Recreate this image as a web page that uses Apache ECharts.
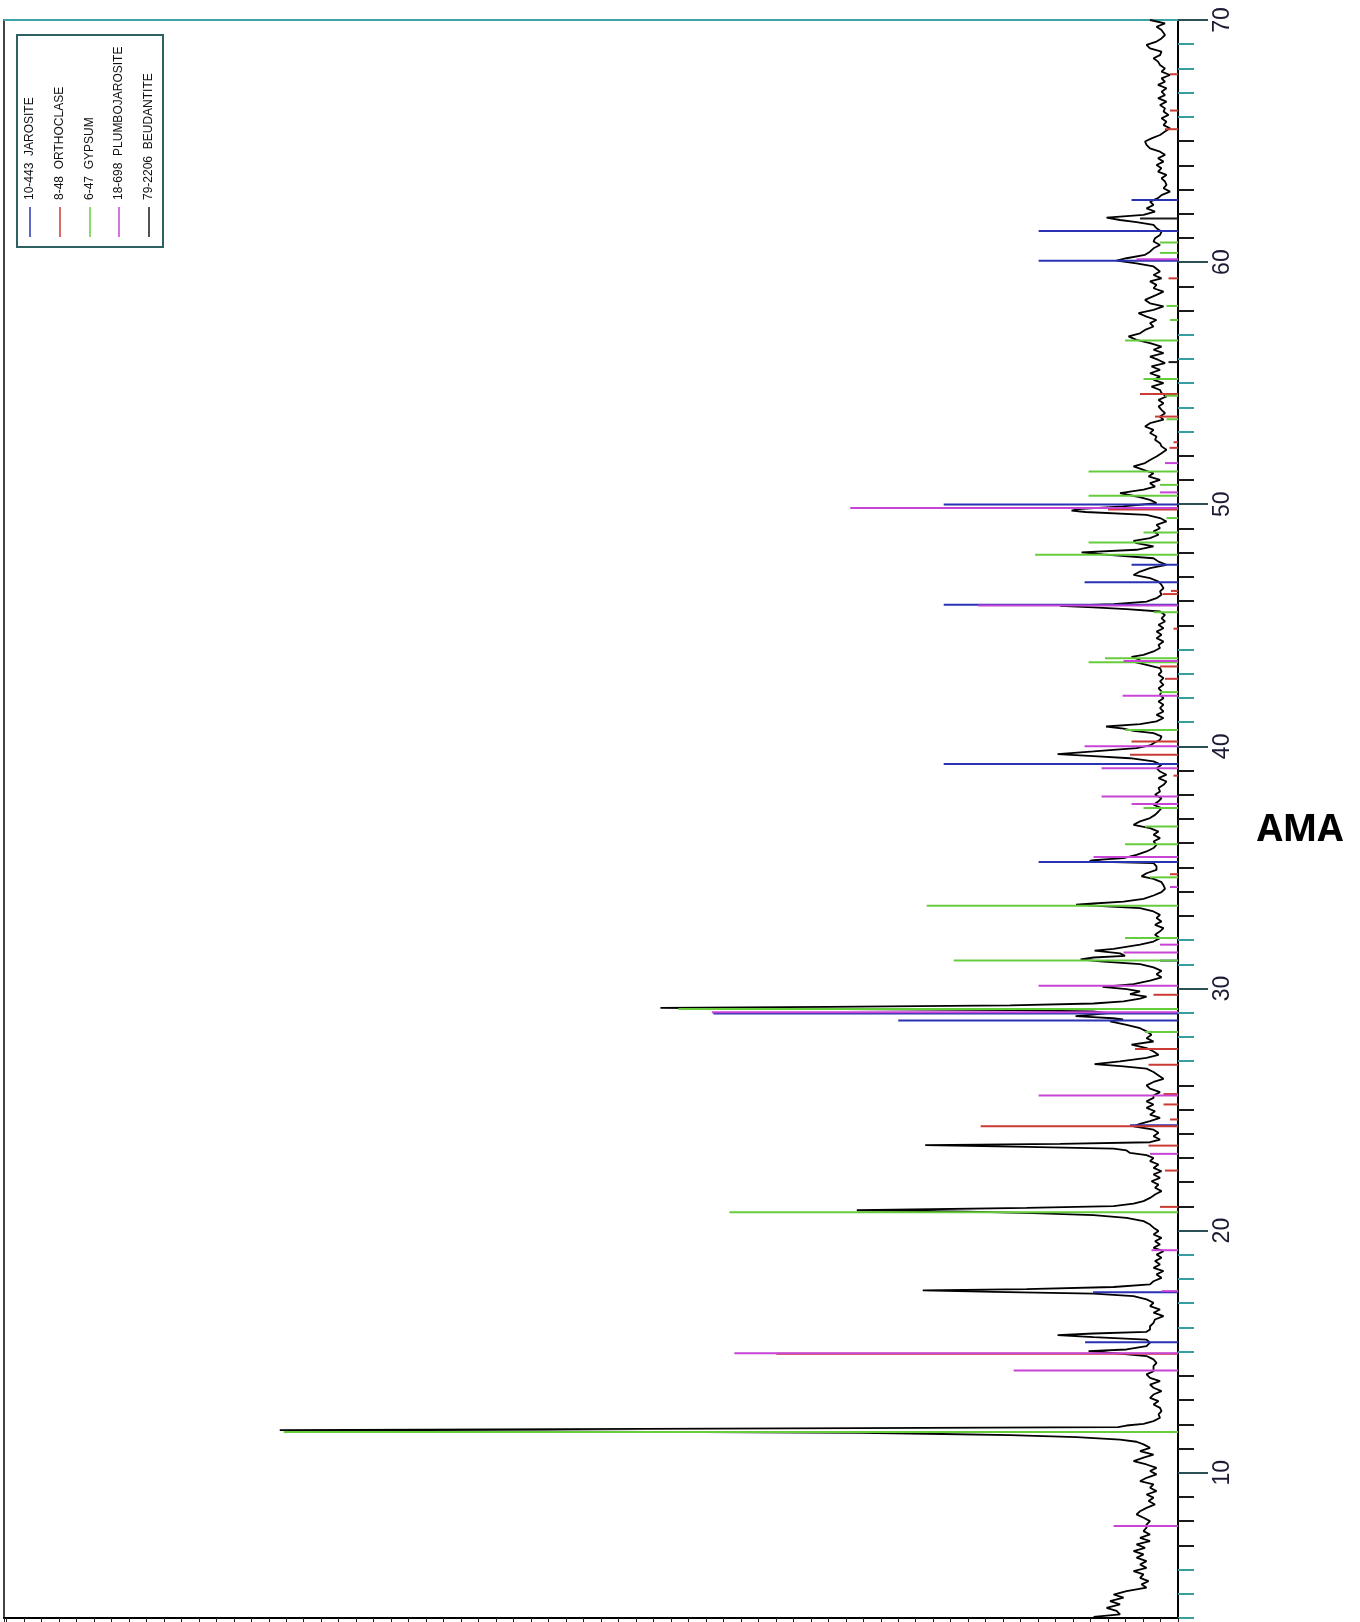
<!DOCTYPE html>
<html>
<head>
<meta charset="utf-8">
<title>AMA – XRD pattern</title>
<script src="https://cdn.jsdelivr.net/npm/echarts@6/dist/echarts.min.js"></script>
<style>
  html, body { margin: 0; padding: 0; background: #ffffff; }
  #chart { width: 1360px; height: 1622px; }
</style>
</head>
<body>
<div id="chart"></div>
<script>
// ---- scan range and axis ticks (2-theta, degrees) ----
const twoThetaMin = 4;
const twoThetaMax = 70;
const majorTicks = [10, 20, 30, 40, 50, 60, 70];
const tealTicks = [4, 5, 6, 15, 16, 17, 18, 19, 27, 28, 29, 31, 32, 41, 42, 43, 44, 53, 54, 55, 56, 57, 66, 67, 68, 69];
const darkTicks = [7, 8, 9, 11, 12, 13, 14, 21, 22, 23, 24, 25, 26, 33, 34, 35, 36, 37, 38, 39, 45, 46, 47, 48, 49, 51, 52, 58, 59, 61, 62, 63, 64, 65];

// intensity scale (counts)
const countsMax = 2350;
const countsTick = 35;

// ---- measured pattern: [2theta, counts] ----
const scan = [
  [70.00,56],[69.86,26],[69.72,43],[69.59,33],[69.38,26],[69.24,33],[69.11,43],[68.97,63],[68.83,56],[68.69,33],
  [68.55,36],[68.42,49],[68.28,40],[68.14,36],[68.00,26],[67.87,33],[67.73,16],[67.59,33],[67.45,26],[67.32,40],
  [67.18,23],[67.04,33],[66.90,26],[66.77,40],[66.63,23],[66.49,36],[66.35,26],[66.22,29],[66.08,19],[65.94,33],
  [65.80,23],[65.66,29],[65.53,16],[65.39,26],[65.25,36],[65.11,53],[64.98,66],[64.84,63],[64.70,56],[64.56,36],
  [64.43,26],[64.29,40],[64.15,29],[64.01,43],[63.88,33],[63.74,40],[63.60,23],[63.46,33],[63.33,26],[63.19,23],
  [63.05,29],[62.91,16],[62.77,33],[62.64,40],[62.50,56],[62.36,49],[62.22,63],[62.09,46],[61.95,69],[61.84,143],
  [61.74,116],[61.65,83],[61.54,49],[61.40,43],[61.26,33],[61.12,36],[60.99,46],[60.85,49],[60.71,36],[60.57,49],
  [60.43,56],[60.30,66],[60.16,103],[60.06,123],[59.95,83],[59.82,49],[59.61,36],[59.47,49],[59.33,33],[59.20,56],
  [59.06,43],[58.92,49],[58.78,29],[58.65,43],[58.44,66],[58.30,56],[58.17,29],[58.03,49],[57.89,79],[57.75,63],
  [57.61,43],[57.48,56],[57.34,49],[57.20,66],[57.06,76],[56.93,99],[56.79,83],[56.65,56],[56.51,33],[56.38,49],
  [56.24,29],[56.10,56],[55.96,39],[55.83,26],[55.69,53],[55.55,36],[55.41,56],[55.27,36],[55.14,49],[55.00,29],
  [54.86,53],[54.72,36],[54.59,33],[54.45,23],[54.31,39],[54.17,29],[54.04,39],[53.90,33],[53.76,26],[53.62,36],
  [53.49,29],[53.35,56],[53.21,66],[53.07,49],[52.94,56],[52.80,43],[52.66,46],[52.52,36],[52.39,33],[52.25,23],
  [52.11,33],[51.97,43],[51.83,56],[51.70,66],[51.56,89],[51.42,69],[51.28,49],[51.15,59],[51.01,36],[50.87,56],
  [50.73,46],[50.60,69],[50.46,116],[50.32,83],[50.18,56],[50.05,43],[49.91,110],[49.80,200],[49.74,213],[49.68,185],
  [49.56,63],[49.43,36],[49.29,23],[49.15,43],[49.01,36],[48.88,49],[48.74,39],[48.60,56],[48.49,89],[48.39,83],
  [48.26,49],[48.12,83],[48.01,193],[47.93,150],[47.88,120],[47.77,49],[47.63,39],[47.50,23],[47.36,56],[47.22,76],
  [47.08,89],[46.95,56],[46.81,39],[46.67,33],[46.53,29],[46.40,36],[46.26,33],[46.12,43],[45.98,63],[45.87,129],
  [45.80,236],[45.74,169],[45.67,103],[45.57,36],[45.43,26],[45.29,33],[45.16,26],[45.02,39],[44.88,29],[44.74,43],
  [44.61,33],[44.47,43],[44.33,29],[44.19,39],[44.06,36],[43.92,49],[43.78,69],[43.70,93],[43.57,76],[43.48,86],
  [43.37,63],[43.23,36],[43.09,33],[42.96,39],[42.82,29],[42.68,36],[42.54,29],[42.40,39],[42.27,33],[42.13,36],
  [41.99,29],[41.85,39],[41.72,29],[41.58,36],[41.44,29],[41.30,43],[41.17,29],[41.03,43],[40.92,76],[40.82,144],
  [40.73,109],[40.64,89],[40.55,49],[40.41,33],[40.27,36],[40.13,49],[40.04,56],[39.93,83],[39.79,169],[39.68,241],
  [39.60,169],[39.51,96],[39.38,49],[39.24,33],[39.10,43],[38.96,36],[38.83,23],[38.69,39],[38.55,23],[38.41,29],
  [38.28,39],[38.14,36],[38.00,46],[37.86,33],[37.73,39],[37.59,49],[37.45,33],[37.31,39],[37.17,46],[37.04,56],
  [36.90,76],[36.76,89],[36.62,56],[36.48,39],[36.35,49],[36.21,36],[36.07,49],[35.93,43],[35.80,49],[35.66,63],
  [35.52,83],[35.38,109],[35.30,169],[35.27,177],[35.23,150],[35.18,49],[35.04,43],[34.90,43],[34.76,63],[34.63,73],
  [34.53,49],[34.39,33],[34.26,29],[34.12,26],[33.98,33],[33.84,49],[33.70,69],[33.59,109],[33.51,169],[33.46,204],
  [33.39,143],[33.32,76],[33.18,49],[33.04,36],[32.91,43],[32.77,33],[32.63,46],[32.49,29],[32.36,36],[32.22,46],
  [32.08,36],[31.94,49],[31.81,76],[31.64,129],[31.56,167],[31.45,116],[31.35,106],[31.28,169],[31.20,195],[31.12,156],
  [31.01,76],[30.87,49],[30.73,33],[30.59,43],[30.46,33],[30.32,56],[30.18,89],[30.07,151],[29.97,103],[29.88,76],
  [29.77,96],[29.66,63],[29.58,76],[29.47,109],[29.38,169],[29.30,336],[29.24,700],[29.20,1036],[29.16,760],[29.11,330],
  [29.05,170],[28.98,140],[28.92,170],[28.86,205],[28.82,170],[28.77,130],[28.72,110],[28.64,136],[28.50,103],[28.36,76],
  [28.23,63],[28.09,53],[27.95,63],[27.81,49],[27.68,93],[27.54,63],[27.40,49],[27.26,39],[27.13,63],[26.99,116],
  [26.88,167],[26.78,109],[26.69,63],[26.55,49],[26.41,39],[26.27,29],[26.14,49],[26.00,63],[25.86,56],[25.72,36],
  [25.58,49],[25.48,49],[25.34,63],[25.21,49],[25.07,63],[24.93,46],[24.79,56],[24.66,36],[24.52,56],[24.41,76],
  [24.31,89],[24.17,49],[24.04,39],[23.90,49],[23.76,36],[23.65,56],[23.58,236],[23.53,506],[23.46,303],[23.39,129],
  [23.31,103],[23.21,96],[23.12,63],[23.00,49],[22.87,56],[22.73,39],[22.59,49],[22.45,33],[22.32,49],[22.18,36],
  [22.04,53],[21.90,39],[21.77,46],[21.63,33],[21.49,46],[21.35,56],[21.22,69],[21.11,89],[21.01,129],[20.94,303],
  [20.84,643],[20.78,420],[20.72,290],[20.64,169],[20.53,103],[20.39,69],[20.25,56],[20.12,49],[19.98,39],[19.84,49],
  [19.70,33],[19.56,46],[19.43,36],[19.29,49],[19.15,29],[19.01,43],[18.88,33],[18.74,46],[18.60,36],[18.46,49],
  [18.33,29],[18.19,43],[18.05,33],[17.91,49],[17.78,56],[17.67,129],[17.58,303],[17.53,511],[17.47,369],[17.40,169],
  [17.29,89],[17.16,63],[17.02,49],[16.88,56],[16.74,36],[16.61,49],[16.47,29],[16.33,46],[16.19,49],[16.05,56],
  [15.92,56],[15.82,63],[15.75,169],[15.68,241],[15.60,169],[15.50,63],[15.37,56],[15.23,63],[15.09,103],[15.02,179],
  [14.94,129],[14.82,63],[14.68,49],[14.54,43],[14.40,49],[14.33,46],[14.19,49],[14.06,63],[13.92,56],[13.78,36],
  [13.64,56],[13.51,49],[13.37,33],[13.23,49],[13.09,56],[12.96,39],[12.82,49],[12.68,36],[12.54,33],[12.41,39],
  [12.27,36],[12.13,49],[12.02,69],[11.95,103],[11.88,120],[11.84,636],[11.76,1798],[11.65,636],[11.61,503],[11.55,336],
  [11.47,203],[11.37,116],[11.28,83],[11.17,69],[11.03,56],[10.89,76],[10.75,49],[10.62,69],[10.48,89],[10.34,63],
  [10.20,43],[10.07,56],[9.93,43],[9.79,63],[9.65,76],[9.52,49],[9.38,56],[9.24,43],[9.10,63],[8.97,49],
  [8.83,59],[8.69,46],[8.55,63],[8.41,76],[8.28,83],[8.14,69],[8.00,56],[7.86,63],[7.73,63],[7.59,69],
  [7.45,56],[7.31,76],[7.18,56],[7.04,83],[6.90,66],[6.76,89],[6.63,69],[6.49,83],[6.35,63],[6.21,76],
  [6.07,63],[5.94,89],[5.80,69],[5.66,76],[5.52,59],[5.39,73],[5.25,63],[5.11,103],[4.97,129],[4.84,109],
  [4.70,136],[4.56,116],[4.42,143],[4.29,123],[4.15,116],[4.05,169]
];

// ---- reference patterns (stick positions [2theta, counts]) ----
const jarosite = [
  [62.57,93],[61.29,279],[60.06,279],[49.99,469],[47.50,93],[46.78,187],[45.85,469],[39.27,469],
  [35.22,279],[31.15,36],[28.97,930],[28.68,560],[24.35,96],[17.45,170],[15.39,186]
];
const orthoclase = [
  [67.76,16],[66.26,16],[65.49,26],[59.33,19],[54.55,76],[53.62,46],[52.56,9],[52.33,17],[49.78,140],
  [46.42,14],[46.29,31],[44.86,9],[43.30,36],[42.79,26],[40.20,93],[39.65,96],[38.79,9],[34.72,16],
  [29.74,49],[27.50,86],[26.85,59],[25.64,29],[25.21,29],[24.59,16],[24.31,395],[23.51,59],[22.48,26],
  [20.98,36],[14.91,804]
];
const gypsum = [
  [60.81,36],[60.38,36],[58.19,23],[57.61,16],[56.76,106],[55.17,69],[54.48,26],[53.51,23],[51.35,179],
  [50.80,36],[50.35,179],[49.43,23],[48.83,69],[48.42,179],[47.91,286],[45.54,49],[43.64,146],[43.47,179],
  [42.24,36],[40.68,106],[37.45,69],[36.69,66],[35.96,106],[34.59,56],[33.42,503],[32.08,106],[31.16,449],
  [29.15,1000],[28.20,66],[20.76,898],[11.68,1790]
];
const plumbojarosite = [
  [60.12,83],[51.70,26],[50.49,36],[49.84,656],[45.82,400],[43.53,109],[42.09,111],[40.00,187],[39.10,153],
  [37.93,153],[37.62,93],[35.43,169],[34.19,16],[31.81,36],[31.49,109],[30.11,279],[29.02,933],[25.58,279],
  [23.17,56],[19.19,53],[17.50,33],[14.93,888],[14.22,329],[7.80,129]
];
const beudantite = [
  [61.80,76],[55.87,19]
];

// legend entries: card number, phase name, colour
const phaseCards = ['10-443', '8-48', '6-47', '18-698', '79-2206'];
const phaseNames = ['JAROSITE', 'ORTHOCLASE', 'GYPSUM', 'PLUMBOJAROSITE', 'BEUDANTITE'];
const phaseColors = ['#2a32b4', '#cc3a34', '#66cc3c', '#c744d6', '#1a1a1a'];
const phaseSticks = [jarosite, orthoclase, gypsum, plumbojarosite, beudantite];

const sampleName = 'AMA';

// ---------------------------------------------------------------
const chart = echarts.init(document.getElementById('chart'), null, { renderer: 'canvas' });

function stickSeries(name, data, color) {
  return {
    type: 'custom',
    name: name,
    data: data.map(p => [p[1], p[0]]),
    xAxisIndex: 0,
    yAxisIndex: 0,
    z: 3,
    silent: true,
    renderItem: function (params, api) {
      const I = api.value(0), th = api.value(1);
      const a = api.coord([0, th]);
      const b = api.coord([I, th]);
      return {
        type: 'line',
        shape: { x1: a[0], y1: a[1], x2: b[0], y2: b[1] },
        style: { stroke: color, lineWidth: 2 }
      };
    }
  };
}

const thetaAxisBase = {
  type: 'value',
  min: twoThetaMin,
  max: twoThetaMax,
  position: 'right',
  splitLine: { show: false },
  axisLine: { show: false, onZero: false }
};

// legend drawn as rotated text inside a framed box
const legendX0 = 30, legendStep = 30;
const legendElements = [{
  type: 'rect',
  shape: { x: 17, y: 35, width: 146, height: 212 },
  style: { fill: '#ffffff', stroke: '#2e6262', lineWidth: 2 },
  z: 10
}];
phaseNames.forEach((nm, i) => {
  const x = legendX0 + i * legendStep - (i >= 3 ? 1 : 0);
  legendElements.push({
    type: 'line',
    shape: { x1: x, y1: 207, x2: x, y2: 237 },
    style: { stroke: phaseColors[i], lineWidth: 1.5 },
    z: 11
  });
  legendElements.push({
    type: 'text',
    x: x,
    y: 200,
    rotation: Math.PI / 2,
    style: {
      text: phaseCards[i] + '  ' + nm,
      font: '12px "Liberation Sans", Arial, sans-serif',
      fill: '#111111',
      textAlign: 'left',
      textVerticalAlign: 'middle'
    },
    z: 11
  });
});
legendElements.push({
  type: 'text',
  x: 1300,
  y: 830,
  style: {
    text: sampleName,
    font: 'bold 37px "Open Sans", "Liberation Sans", sans-serif',
    fill: '#000000',
    textAlign: 'center',
    textVerticalAlign: 'middle'
  },
  z: 11
});

const option = {
  animation: false,
  backgroundColor: '#ffffff',
  grid: {
    left: 4, right: 182, top: 20, bottom: 4,
    show: true,
    borderColor: '#444444',
    borderWidth: 2,
    backgroundColor: 'transparent'
  },
  xAxis: [
    {
      type: 'value',
      min: 0,
      max: countsMax,
      interval: countsTick,
      inverse: true,
      position: 'bottom',
      axisLine: { show: true, onZero: false, lineStyle: { color: '#000000', width: 2 } },
      axisTick: { show: true, inside: false, length: 6, lineStyle: { color: '#222222', width: 1 } },
      axisLabel: { show: false },
      splitLine: { show: false }
    },
    {
      type: 'value',
      min: 0,
      max: countsMax,
      inverse: true,
      position: 'top',
      axisLine: { show: true, onZero: false, lineStyle: { color: '#3fa3a6', width: 2 } },
      axisTick: { show: false },
      axisLabel: { show: false },
      splitLine: { show: false }
    }
  ],
  yAxis: [
    Object.assign({}, thetaAxisBase, {
      axisLine: { show: true, onZero: false, lineStyle: { color: '#000000', width: 2 } },
      axisTick: { show: true, customValues: darkTicks, length: 16, lineStyle: { color: '#1a1a1a', width: 2 } },
      axisLabel: { show: false }
    }),
    Object.assign({}, thetaAxisBase, {
      axisTick: { show: true, customValues: tealTicks, length: 16, lineStyle: { color: '#3a9ea0', width: 2 } },
      axisLabel: { show: false }
    }),
    Object.assign({}, thetaAxisBase, {
      axisTick: { show: true, customValues: majorTicks, length: 30, lineStyle: { color: '#2a4f55', width: 2 } },
      axisLabel: {
        show: true,
        customValues: majorTicks,
        rotate: 90,
        margin: 33,
        fontSize: 23,
        fontFamily: '"Liberation Sans", Arial, sans-serif',
        color: '#1b1b33'
      }
    })
  ],
  graphic: { elements: legendElements },
  series: [
    {
      type: 'line',
      name: 'scan',
      data: scan.map(p => [p[1], p[0]]),
      xAxisIndex: 0,
      yAxisIndex: 0,
      showSymbol: false,
      symbol: 'none',
      silent: true,
      z: 2,
      lineStyle: { color: '#000000', width: 1.8 }
    }
  ].concat(phaseSticks.map((d, i) => stickSeries(phaseNames[i], d, phaseColors[i])))
};

chart.setOption(option);
</script>
</body>
</html>
